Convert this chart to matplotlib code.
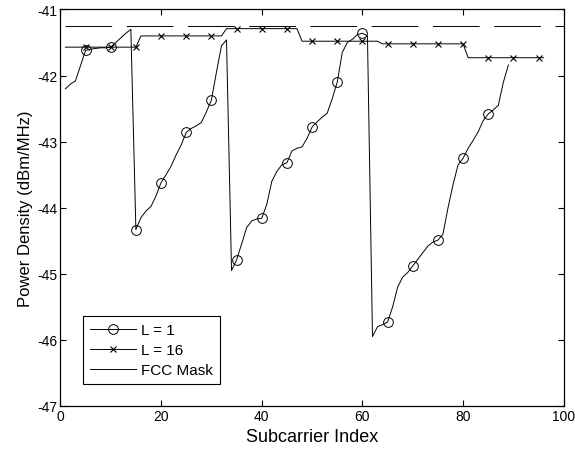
import numpy as np
import matplotlib
matplotlib.use("Agg")
from matplotlib import pyplot as plt
from matplotlib.lines import Line2D

plt.rcParams['font.family'] = ['Liberation Sans', 'DejaVu Sans']
plt.rcParams['lines.scale_dashes'] = False
plt.rcParams['axes.unicode_minus'] = False

# L = 1 curve, subcarriers 1..89
x_l1 = np.arange(1, 90)
y_l1 = [-42.20, -42.13, -42.08, -41.85, -41.62, -41.60, -41.59, -41.58, -41.58, -41.57,
        -41.50, -41.43, -41.36, -41.30,
        -44.33, -44.15, -44.05, -43.98, -43.82, -43.62, -43.50, -43.37, -43.20, -43.05,
        -42.86, -42.80, -42.76, -42.71, -42.55, -42.37, -41.95, -41.55, -41.46,
        -44.95, -44.79, -44.55, -44.30, -44.20, -44.17, -44.16, -43.95, -43.60, -43.45,
        -43.35, -43.32, -43.14, -43.10, -43.08, -42.95, -42.78, -42.70, -42.63, -42.57,
        -42.35, -42.10, -41.65, -41.50, -41.45, -41.38, -41.36, -41.40,
        -45.95, -45.80, -45.77, -45.73, -45.50, -45.20, -45.05, -44.98, -44.88, -44.78,
        -44.68, -44.58, -44.52, -44.49, -44.40, -44.00, -43.65, -43.35, -43.25, -43.10,
        -42.98, -42.85, -42.68, -42.58, -42.52, -42.45, -42.10, -41.84]

# L = 16 curve, subcarriers 1..96
x_l16 = np.arange(1, 97)
y_l16 = ([-41.57] * 15 + [-41.40] * 17 + [-41.29] * 15 + [-41.48] * 16
         + [-41.52] * 17 + [-41.73] * 16)

# FCC mask
x_mask = [1, 100]
y_mask = [-41.25, -41.25]

xticks = [0, 20, 40, 60, 80, 100]
yticks = [-47, -46, -45, -44, -43, -42, -41]

fig = plt.figure(figsize=(5.75, 4.52), dpi=100)
ax = fig.add_axes([0.105, 0.0996, 0.8755, 0.8772])

ax.plot(x_l1, y_l1, color='black', lw=0.7, marker='o', markersize=7,
        markerfacecolor='none', markeredgewidth=0.7, markevery=list(range(4, 89, 5)))
ax.plot(x_l16, y_l16, color='black', lw=0.7, marker='x', markersize=4,
        markeredgewidth=0.8, markevery=list(range(4, 96, 5)))
ax.plot(x_mask, y_mask, color='black', lw=0.7, linestyle=(0, (33.6, 10.5)))

ax.set_xlim(0, 100)
ax.set_ylim(-47, -41)
ax.set_xticks(xticks)
ax.set_yticks(yticks)
ax.tick_params(direction='in', top=True, right=True, length=4, labelsize=10, width=0.8, pad=2)
for s in ax.spines.values():
    s.set_linewidth(0.9)
ax.set_xlabel('Subcarrier Index', fontsize=13, labelpad=4)
ax.set_ylabel('Power Density (dBm/MHz)', fontsize=12, labelpad=3)

handles = [
    Line2D([], [], color='black', lw=0.7, marker='o', markersize=7, markerfacecolor='none', markeredgewidth=0.7),
    Line2D([], [], color='black', lw=0.7, marker='x', markersize=4, markeredgewidth=0.8),
    Line2D([], [], color='black', lw=0.7),
]
leg = ax.legend(handles, ['L = 1', 'L = 16', 'FCC Mask'], loc='lower left',
                bbox_to_anchor=(0.045, 0.055), borderaxespad=0, fontsize=11, fancybox=False,
                edgecolor='black', framealpha=1, handlelength=3.0, borderpad=0.45,
                labelspacing=0.4, handletextpad=0.35)
leg.get_frame().set_linewidth(0.8)

fig.savefig('out.png', dpi=100)
